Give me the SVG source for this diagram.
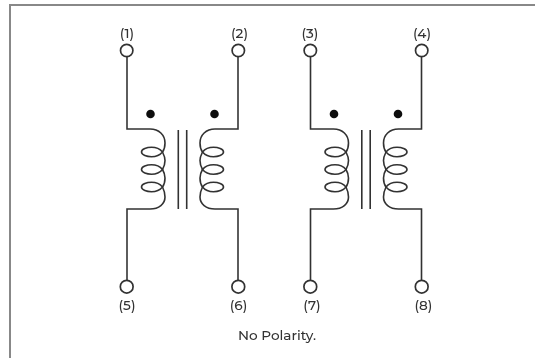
<svg xmlns="http://www.w3.org/2000/svg" width="535" height="358" viewBox="0 0 535 358">
<style>
.w{fill:none;stroke:#333;stroke-width:1.6}
.c{fill:#fff;stroke:#333;stroke-width:1.7}
.d{fill:#111}
.t{font-family:"Montserrat","Open Sans","Liberation Sans",sans-serif;font-size:13.6px;font-weight:500;fill:#333;text-anchor:middle}
.b{fill:none;stroke:#888;stroke-width:2}
</style>
<defs>
<filter id="s" x="-5%" y="-5%" width="110%" height="110%"><feGaussianBlur stdDeviation="0.4"/></filter>
<path id="loop" class="w" d="M141.5 0C141.5 -3 147 -4.7 151.5 -4.7C156 -4.7 160 -3 162.5 0C160 3 156 4.7 151.5 4.7C147 4.7 141.5 3 141.5 0Z"/>
<g id="half">
<path class="w" d="M127 56V129H150C159 129 165 135 165 143C165 147 164 150 162.5 152C164 155 165 158 165 160.5C165 164 164 167 162.5 169.5C164 172 165 175 165 178C165 181 164 185 162.5 187C164.5 191 165 194 165 197C165 204 159 209 150 209H127V280"/>
<use href="#loop" y="152"/>
<use href="#loop" y="169.5"/>
<use href="#loop" y="187"/>
</g>
<g id="pair">
<use href="#half"/>
<use href="#half" transform="matrix(-1 0 0 1 365 0)"/>
<path class="w" d="M178.3 130V209M186.7 130V209"/>
</g>
</defs>
<g filter="url(#s)">
<path class="b" d="M10 358V5H535"/>
<g id="connectors">
<use href="#pair"/>
<use href="#pair" transform="translate(183.5 0)"/>
</g>
<g id="dots">
<circle class="d" cx="150.5" cy="114" r="4.3"/>
<circle class="d" cx="214.5" cy="114" r="4.3"/>
<circle class="d" cx="334" cy="114" r="4.3"/>
<circle class="d" cx="398" cy="114" r="4.3"/>
</g>
<g id="n1"><circle class="c" cx="126.7" cy="50.5" r="6.2"/><text class="t" x="127" y="37.5">(1)</text></g>
<g id="n2"><circle class="c" cx="238.3" cy="50.5" r="6.2"/><text class="t" x="239.5" y="37.5">(2)</text></g>
<g id="n3"><circle class="c" cx="310.3" cy="50.5" r="6.2"/><text class="t" x="310" y="37.5">(3)</text></g>
<g id="n4"><circle class="c" cx="421.7" cy="50.5" r="6.2"/><text class="t" x="422" y="37.5">(4)</text></g>
<g id="n5"><circle class="c" cx="126.7" cy="286.7" r="6.4"/><text class="t" x="127" y="309.5">(5)</text></g>
<g id="n6"><circle class="c" cx="238.3" cy="286.7" r="6.4"/><text class="t" x="238.5" y="309.5">(6)</text></g>
<g id="n7"><circle class="c" cx="310.3" cy="286.7" r="6.4"/><text class="t" x="312" y="309.5">(7)</text></g>
<g id="n8"><circle class="c" cx="421.7" cy="286.7" r="6.4"/><text class="t" x="423.5" y="309.5">(8)</text></g>
<text class="t" x="277" y="340">No Polarity.</text>
</g>
</svg>
